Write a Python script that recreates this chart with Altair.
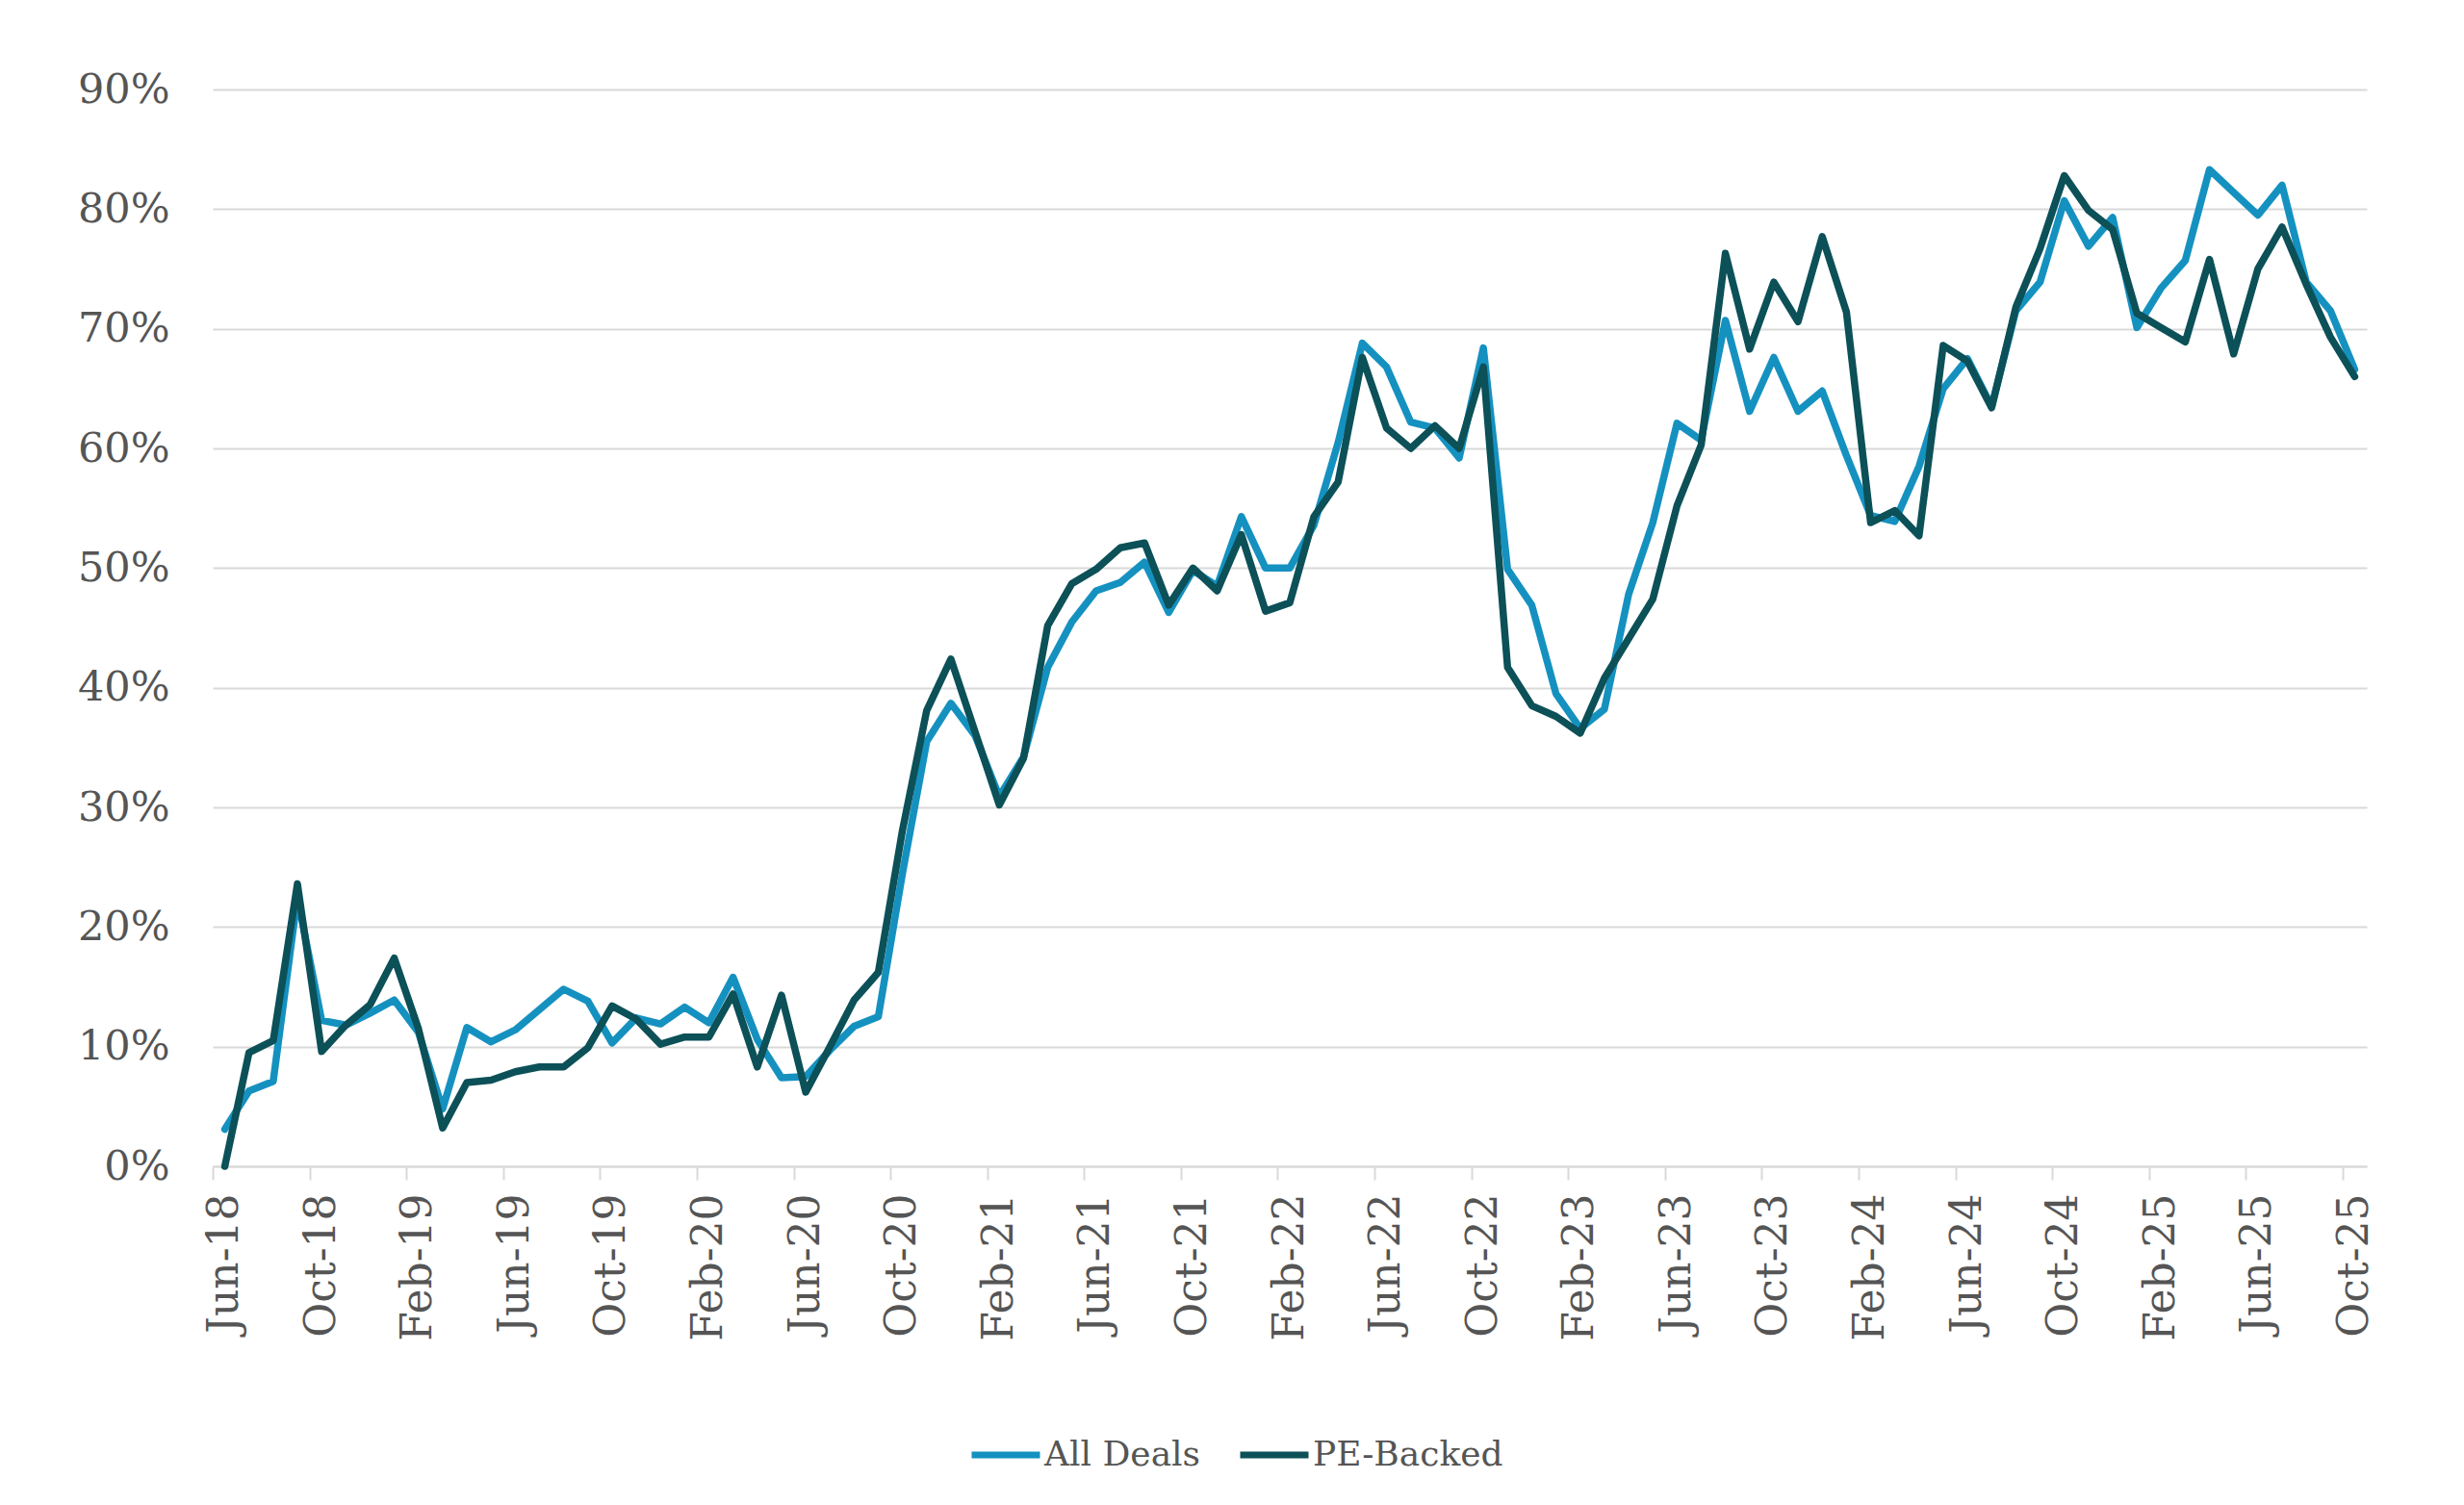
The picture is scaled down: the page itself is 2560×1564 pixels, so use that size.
import altair as alt
import pandas as pd

tick_labels = ["Jun-18", "Oct-18", "Feb-19", "Jun-19", "Oct-19", "Feb-20", "Jun-20",
               "Oct-20", "Feb-21", "Jun-21", "Oct-21", "Feb-22", "Jun-22", "Oct-22",
               "Feb-23", "Jun-23", "Oct-23", "Feb-24", "Jun-24", "Oct-24", "Feb-25",
               "Jun-25", "Oct-25"]

series_names = ["All Deals", "PE-Backed"]

all_deals = [3.1, 6.3, 7.1, 22.5, 12.2, 11.8, 12.8, 13.9, 11.2, 4.8,
             11.6, 10.4, 11.4, 13.1, 14.8, 13.8, 10.3, 12.4, 11.9, 13.3,
             12.0, 15.8, 10.6, 7.4, 7.5, 9.7, 11.7, 12.5, 24.5, 35.5,
             38.7, 36.0, 30.9, 34.2, 41.7, 45.5, 48.1, 48.8, 50.5, 46.3,
             49.8, 48.5, 54.3, 50.0, 50.0, 53.6, 60.5, 68.8, 66.8, 62.2,
             61.7, 59.2, 68.4, 49.9, 46.9, 39.5, 36.6, 38.2, 47.8, 53.8,
             62.1, 60.7, 70.7, 63.1, 67.6, 63.1, 64.8, 59.4, 54.4, 53.9,
             58.5, 65.0, 67.5, 63.5, 71.5, 73.9, 80.7, 76.9, 79.3, 70.1,
             73.4, 75.7, 83.3, 81.4, 79.5, 82.0, 73.9, 71.5, 66.6]

pe_backed = [0.0, 9.5, 10.5, 23.6, 9.6, 11.8, 13.5, 17.4, 11.5, 3.2,
             7.0, 7.2, 7.9, 8.3, 8.3, 9.9, 13.4, 12.3, 10.2, 10.8,
             10.8, 14.4, 8.3, 14.3, 6.2, 10.0, 13.9, 16.2, 28.1, 38.1,
             42.4, 36.3, 30.2, 34.1, 45.2, 48.7, 49.9, 51.7, 52.1, 46.9,
             50.0, 48.1, 52.8, 46.4, 47.1, 54.3, 57.2, 67.6, 61.7, 60.0,
             61.9, 60.0, 66.8, 41.7, 38.5, 37.6, 36.2, 40.8, 44.1, 47.4,
             55.2, 60.3, 76.3, 68.3, 73.9, 70.6, 77.7, 71.4, 53.8, 54.8,
             52.7, 68.6, 67.3, 63.4, 71.8, 76.7, 82.8, 79.9, 78.3, 71.3,
             70.1, 68.9, 75.8, 67.9, 75.0, 78.5, 73.7, 69.3, 66.0]

rows = []
for i, v in enumerate(all_deals):
    rows.append({"m": i, "series": series_names[0], "value": v})
for i, v in enumerate(pe_backed):
    rows.append({"m": i, "series": series_names[1], "value": v})
df = pd.DataFrame(rows)

n = len(all_deals)
W = 2238
H = 1119
half = W / n / 2.0

label_js = "[" + ",".join("'" + t + "'" for t in tick_labels) + "]"

FONT = "DejaVu Serif"
TXT = "#555555"
GRID = "#d9d9d9"

chart = alt.Chart(df).mark_line(strokeWidth=7.5, strokeJoin="round", strokeCap="round").encode(
    x=alt.X("m:Q",
            scale=alt.Scale(domain=[-0.5, n - 0.5], nice=False, zero=False),
            axis=alt.Axis(values=list(range(0, n, 4)),
                          labelExpr=label_js + "[round(datum.value/4)]",
                          title=None, grid=False,
                          domainColor=GRID, domainWidth=2,
                          tickColor=GRID, tickWidth=2, tickSize=14,
                          tickOffset=-half, labelOffset=half,
                          labelAngle=-90, labelPadding=14,
                          labelFont=FONT, labelFontSize=44, labelColor=TXT,
                          labelOverlap=False, labelFlush=False, labelBound=False)),
    y=alt.Y("value:Q",
            scale=alt.Scale(domain=[0, 90], nice=False),
            axis=alt.Axis(values=list(range(0, 91, 10)),
                          labelExpr="datum.value + '%'",
                          title=None, grid=True, gridColor=GRID, gridWidth=2,
                          domain=False, ticks=False, tickSize=0,
                          labelPadding=45, minExtent=208,
                          labelFont=FONT, labelFontSize=43, labelColor=TXT)),
    color=alt.Color("series:N",
                    scale=alt.Scale(domain=series_names, range=["#1591C0", "#0C5058"]),
                    legend=alt.Legend(title=None, orient="none", direction="horizontal",
                                      legendX=785, legendY=1380,
                                      symbolType="stroke", symbolSize=5041,
                                      symbolStrokeWidth=7, labelOffset=1,
                                      columnPadding=26, padding=0, labelLimit=0,
                                      labelFont=FONT, labelFontSize=36, labelColor=TXT)),
).properties(
    width=W, height=H,
    padding={"left": 5, "top": 64, "right": 5, "bottom": 5},
    background="white",
).configure_view(stroke=None)

chart.save("out.html", embed_options={"renderer": "svg", "actions": False})
